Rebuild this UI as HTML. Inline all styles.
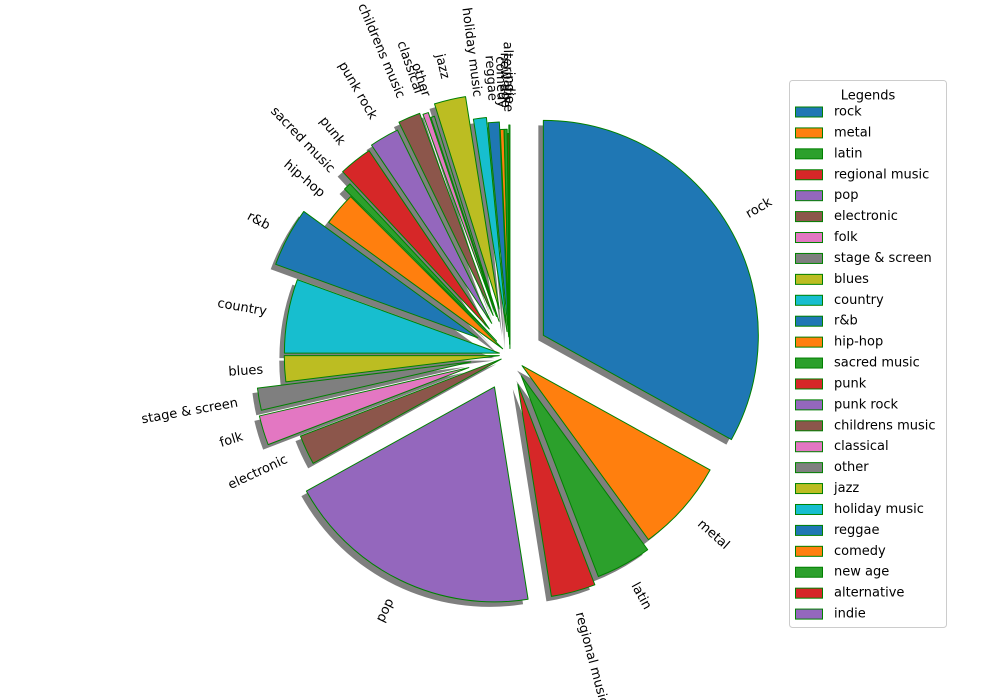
<!DOCTYPE html>
<html>
<head>
<meta charset="utf-8">
<style>
  html,body{margin:0;padding:0;background:#fff;}
  svg{display:block;font-family:"DejaVu Sans","Liberation Sans",sans-serif;}
</style>
</head>
<body>
<svg id="chart" width="1000" height="700" viewBox="0 0 1000 700" xmlns="http://www.w3.org/2000/svg">
  <rect x="0" y="0" width="1000" height="700" fill="#ffffff"/>
  <g id="shadows"></g>
  <g id="wedges"></g>
  <g id="labels"></g>
  <g id="legend"></g>
</svg>
<script>
const categories = ["rock","metal","latin","regional music","pop","electronic","folk","stage & screen","blues","country","r&b","hip-hop","sacred music","punk","punk rock","childrens music","classical","other","jazz","holiday music","reggae","comedy","new age","alternative","indie"];
const values = [119,25,15,12,70,8,8,6,7,20,16,9,2,9,8,6,1.5,1,8.5,3.5,3,1,0.8,0.4,0.3];
const explodeFrac = [0.18,0.075,0.11,0.14,0.165,0.045,0.2,0.185,0.05,0.05,0.17,0.045,0.09,0.155,0.17,0.2,0.19,0.165,0.22,0.11,0.085,0.05,0.05,0.03,0.07];

const palette = ["#1f77b4","#ff7f0e","#2ca02c","#d62728","#9467bd","#8c564b","#e377c2","#7f7f7f","#bcbd22","#17becf"];
const cx = 510, cy = 355, R = 215;
const NS = "http://www.w3.org/2000/svg";
const total = values.reduce((a,b)=>a+b,0);
function angleScale(v){ return v / total * 360; }
function pt(a, r, ox, oy){ const t = a*Math.PI/180; return [ox + r*Math.sin(t), oy - r*Math.cos(t)]; }

const gS = document.getElementById("shadows");
const gW = document.getElementById("wedges");
const gL = document.getElementById("labels");
const gLeg = document.getElementById("legend");

let acc = 0;
categories.forEach((name, i) => {
  const a1 = acc, span = angleScale(values[i]), a2 = acc + span;
  acc = a2;
  const mid = (a1 + a2) / 2;
  const e = explodeFrac[i] * R;
  const [ox, oy] = pt(mid, e, cx, cy);
  const color = palette[i % 10];
  function pathAt(dx, dy){
    const [x1,y1] = pt(a1, R, ox+dx, oy+dy);
    const [x2,y2] = pt(a2, R, ox+dx, oy+dy);
    const large = span > 180 ? 1 : 0;
    return `M${ox+dx},${oy+dy} L${x1},${y1} A${R},${R} 0 ${large} 1 ${x2},${y2} Z`;
  }
  const sh = document.createElementNS(NS, "path");
  sh.setAttribute("d", pathAt(-5, 5));
  sh.setAttribute("fill", "#000");
  sh.setAttribute("fill-opacity", "0.5");
  
  
  gS.appendChild(sh);

  const w = document.createElementNS(NS, "path");
  w.setAttribute("d", pathAt(0, 0));
  w.setAttribute("fill", color);
  w.setAttribute("stroke", "#008000");
  w.setAttribute("stroke-width", "1");
  w.setAttribute("stroke-linejoin", "round");
  
  
  gW.appendChild(w);

  // label
  const [lx, ly] = pt(mid, 1.1*R, ox, oy);
  const mathAng = 90 - mid; // ccw from +x
  const right = Math.sin(mid*Math.PI/180) >= 0;
  let rot = right ? mathAng : mathAng - 180;
  const t = document.createElementNS(NS, "text");
  t.setAttribute("x", lx);
  t.setAttribute("y", ly);
  t.setAttribute("font-size", "13");
  t.setAttribute("fill", "#000");
  t.setAttribute("text-anchor", right ? "start" : "end");
  t.setAttribute("dominant-baseline", "middle");
  t.setAttribute("transform", `rotate(${-rot} ${lx} ${ly})`);
  t.textContent = name;
  
  
  gL.appendChild(t);
});

// legend
const box = document.createElementNS(NS, "rect");
box.setAttribute("x", 789.5); box.setAttribute("y", 80.5);
box.setAttribute("width", 157); box.setAttribute("height", 547);
box.setAttribute("rx", 3);
box.setAttribute("fill", "#fff"); box.setAttribute("fill-opacity", "0.8");
box.setAttribute("stroke", "#cccccc");


gLeg.appendChild(box);
const title = document.createElementNS(NS, "text");
title.setAttribute("x", 868); title.setAttribute("y", 96);
title.setAttribute("font-size", "13"); title.setAttribute("text-anchor", "middle");
title.setAttribute("dominant-baseline", "middle");
title.textContent = "Legends";


gLeg.appendChild(title);
categories.forEach((name, i) => {
  const y = 112 + i * 20.92;
  const r = document.createElementNS(NS, "rect");
  r.setAttribute("x", 795.5); r.setAttribute("y", y - 5);
  r.setAttribute("width", 27); r.setAttribute("height", 10);
  r.setAttribute("fill", palette[i % 10]);
  r.setAttribute("stroke", "#008000");
  
  
  gLeg.appendChild(r);
  const t = document.createElementNS(NS, "text");
  t.setAttribute("x", 834); t.setAttribute("y", y);
  t.setAttribute("font-size", "13");
  t.setAttribute("dominant-baseline", "middle");
  t.textContent = name;
  
  
  gLeg.appendChild(t);
});
</script>
</body>
</html>
